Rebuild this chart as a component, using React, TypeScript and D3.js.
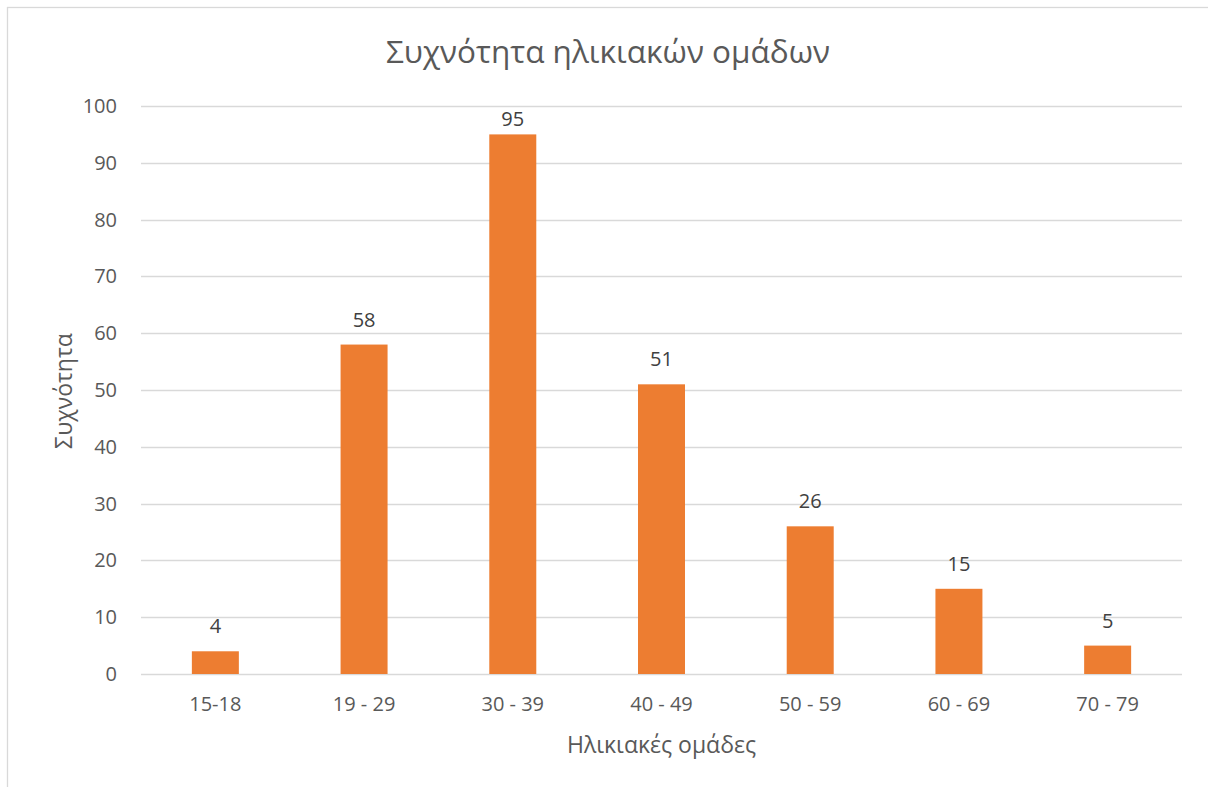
import React, { useEffect, useRef } from "react";
import * as d3 from "d3";

const categories = ["15-18", "19 - 29", "30 - 39", "40 - 49", "50 - 59", "60 - 69", "70 - 79"];
const counts = [4, 58, 95, 51, 26, 15, 5];
const yTicks = [0, 10, 20, 30, 40, 50, 60, 70, 80, 90, 100];

const titleText = "Συχνότητα ηλικιακών ομάδων";
const xAxisTitle = "Ηλικιακές ομάδες";
const yAxisTitle = "Συχνότητα";

const W = 1208;
const H = 787;
const plot = { left: 141, right: 1182, top: 106, bottom: 674 };
const FONT = "'Open Sans', 'Noto Sans', sans-serif";
const TEXT = "#595959";
const GRID = "#D9D9D9";
const BAR = "#ED7D31";

export default function App() {
  const ref = useRef<SVGSVGElement | null>(null);

  useEffect(() => {
    const svg = d3.select(ref.current);
    svg.selectAll("*").remove();

    const x = d3.scaleBand<string>().domain(categories).range([plot.left, plot.right]).paddingInner(0.684).paddingOuter(0.342);
    const y = d3.scaleLinear().domain([0, 100]).range([plot.bottom, plot.top]);

    // chart frame
    svg.append("rect")
      .attr("x", 7.5).attr("y", 7.5)
      .attr("width", 1220).attr("height", 800)
      .attr("fill", "#fff").attr("stroke", GRID).attr("stroke-width", 1.3);

    // title
    svg.append("text")
      .attr("x", 608).attr("y", 63)
      .attr("text-anchor", "middle")
      .attr("font-family", FONT).attr("font-size", 31.5)
      .attr("fill", TEXT).text(titleText);

    // gridlines and y tick labels
    const g = svg.append("g");
    g.selectAll("line.grid").data(yTicks).join("line")
      .attr("class", "grid")
      .attr("x1", plot.left).attr("x2", plot.right)
      .attr("y1", (d) => Math.round(y(d)) + 0.5).attr("y2", (d) => Math.round(y(d)) + 0.5)
      .attr("stroke", GRID).attr("stroke-width", 1.3);

    g.selectAll("text.ytick").data(yTicks).join("text")
      .attr("class", "ytick")
      .attr("x", 117).attr("y", (d) => y(d) + 7)
      .attr("text-anchor", "end")
      .attr("font-family", FONT).attr("font-size", 20)
      .attr("fill", TEXT).text((d) => String(d));

    // bars
    const data = categories.map((c, i) => ({ c, v: counts[i] }));
    g.selectAll("rect.bar").data(data).join("rect")
      .attr("class", "bar")
      .attr("x", (d) => x(d.c)!)
      .attr("y", (d) => y(d.v))
      .attr("width", x.bandwidth())
      .attr("height", (d) => y(0) - y(d.v))
      .attr("fill", BAR);

    // value labels, kept inside the plot area
    g.selectAll("text.val").data(data).join("text")
      .attr("class", "val")
      .attr("x", (d) => x(d.c)! + x.bandwidth() / 2)
      .attr("y", (d) => Math.max(y(d.v) - 18, plot.top + 20))
      .attr("text-anchor", "middle")
      .attr("font-family", FONT).attr("font-size", 20)
      .attr("fill", "#404040").text((d) => String(d.v));

    // category labels
    g.selectAll("text.cat").data(categories).join("text")
      .attr("class", "cat")
      .attr("x", (d) => x(d)! + x.bandwidth() / 2)
      .attr("y", 711)
      .attr("text-anchor", "middle")
      .attr("font-family", FONT).attr("font-size", 20)
      .attr("fill", TEXT).text((d) => d);

    // axis titles
    svg.append("text")
      .attr("x", (plot.left + plot.right) / 2).attr("y", 753)
      .attr("text-anchor", "middle")
      .attr("font-family", FONT).attr("font-size", 23)
      .attr("fill", TEXT).text(xAxisTitle);

    svg.append("text")
      .attr("transform", `translate(72, ${(plot.top + plot.bottom) / 2 + 1}) rotate(-90)`)
      .attr("text-anchor", "middle")
      .attr("font-family", FONT).attr("font-size", 23)
      .attr("fill", TEXT).text(yAxisTitle);
  }, []);

  return (
    <svg
      ref={ref}
      width={W}
      height={H}
      style={{ position: "absolute", left: 0, top: 0, display: "block" }}
    />
  );
}
